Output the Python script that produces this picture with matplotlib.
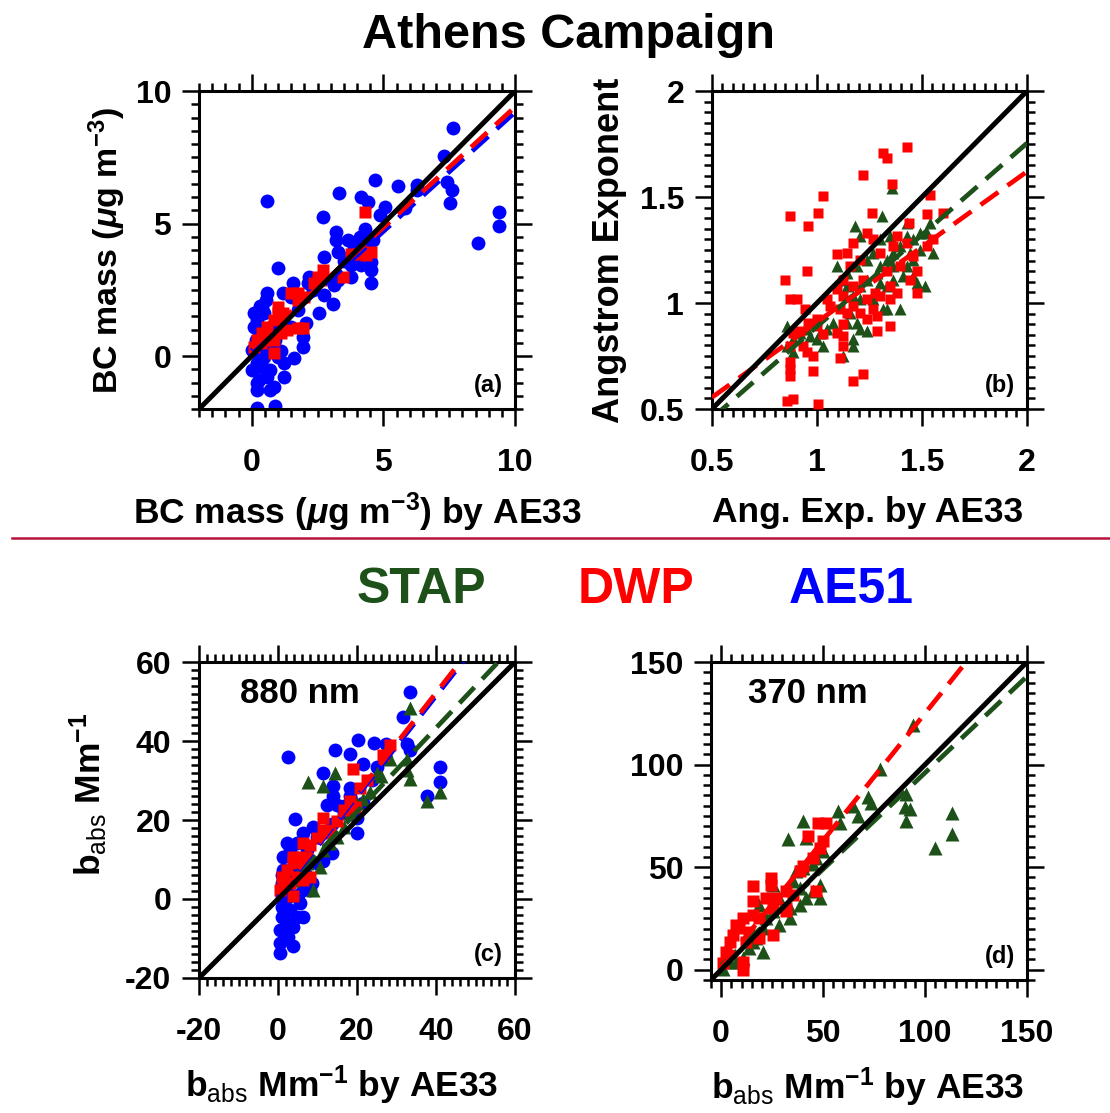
import matplotlib
matplotlib.use("Agg")
import matplotlib.pyplot as plt
from matplotlib.lines import Line2D
from matplotlib.ticker import MultipleLocator, FuncFormatter
import numpy as np

# ---- data ----
# (a) BC mass, AE51 / DWP vs AE33
a_ae51_x = [7.66, 7.32, 7.41, 7.6, 7.53, 8.61, 9.38, 9.38, 0.6, 3.33, 4.67, 5.56, 6.29, 4.16, 4.41, 5.05, 5.82, 2.72,
            4.89, 3.21, 3.21, 3.27, 2.75, 3.9, 4.1, 4.3, 4.6, 4.54, 4.54, 4.54, 4.16, 3.78, 3.27, 2.19, 1.55, 0.98, 0.6,
            1.17, 0.41, 0.22, 0.15, 0.22, 0.28, 0.22, 0.22, 0.9, 0.84, 1.22, 0.71, 1.22, 1.61, 1.93, 1.93, 2.06, 2.57,
            3.08, 2.75, 3.14, 3.78, 2.12, 1.48, 0.1, 0.35, 0.54, 0.48, 0.79, 0.98, 0.6, 0.03, 0.03, 0.48, 0.1, 0.73,
            1.17, 1.48, 2.32, 1.74, 3.78, 3.52, 4.35, 3.65, 6.29, 0.3, 0.5, 0.2, 0.7, 0.45, 0.9, 1.1, 0.3, 0.55, 0.15]
a_ae51_y = [8.59, 7.55, 6.58, 6.26, 5.76, 4.28, 5.45, 4.91, 5.86, 6.14, 6.64, 6.42, 6.45, 6.01, 5.82, 5.64, 5.57, 5.26,
            5.32, 4.69, 4.38, 3.94, 3.74, 4.06, 4.5, 4.81, 4.38, 3.56, 3.25, 2.74, 3.43, 3.0, 2.87, 3.0, 2.74, 3.31, 2.36,
            2.36, 1.86, 1.36, 0.6, -0.28, -0.91, -1.29, -1.97, -1.9, -1.16, -0.78, -0.53, -0.28, -0.09, 0.35, 0.73,
            1.23, 1.61, 1.96, 2.3, 2.67, 3.43, 2.74, 2.23, 1.1, 0.86, 0.35, -0.03, 0.35, -0.03, -0.78, 0.23, -0.53,
            1.61, 1.61, 1.1, 1.36, 1.1, 2.48, 1.73, 3.8, 3.6, 4.25, 4.38, 6.26, 0.0, -0.5, -1.0, -1.3, 1.0, 0.6, 0.2,
            1.9, 2.1, -0.4]
a_dwp_x = [0.1, 0.22, 0.41, 0.6, 0.84, 0.98, 0.98, 0.84, 0.84, 1.1, 1.35, 1.74, 1.93, 0.71, 1.48, 1.74, 1.99, 1.74,
           2.38, 2.5, 2.7, 2.63, 3.46, 3.78, 4.04, 4.54, 4.35, 4.29, 1.17, 0.35, 0.54]
a_dwp_y = [0.35, 0.6, 0.86, 1.1, 1.36, 1.86, 1.61, 0.1, 0.6, 0.86, 0.98, 1.04, 1.04, 0.73, 2.36, 2.36, 2.23, 2.1,
           2.74, 3.0, 3.25, 2.87, 3.0, 3.86, 3.86, 3.94, 3.8, 5.45, 1.61, 0.48, 0.6]
a_fit_dwp = [0.91, 0.30]   # slope, intercept
a_fit_ae51 = [0.90, 0.20]

# (b) Angstrom exponent, STAP / DWP vs AE33
b_dwp_x = [1.427, 1.316, 1.332, 1.221, 1.356, 1.03, 0.871, 1.003, 0.959, 1.26, 1.538, 1.522, 1.599, 1.44, 0.848,
           0.951, 0.871, 0.906, 0.943, 0.959, 0.919, 0.871, 0.935, 0.871, 0.871, 0.871, 0.982, 1.11, 1.03, 1.094,
           1.125, 1.173, 1.221, 0.856, 0.887, 1.003, 1.284, 1.348, 1.237, 1.125, 1.11, 1.142, 1.173, 1.205, 1.268,
           1.276, 1.348, 1.348, 1.475, 1.443, 1.475, 1.522, 1.554, 1.458, 1.395, 1.332, 1.3, 1.237, 1.173, 1.142,
           1.094, 1.205, 1.157, 1.125, 1.173, 1.221, 1.094, 1.237, 1.427, 1.364, 1.268, 1.379, 1.125, 1.125, 1.284,
           1.3, 1.379, 1.062, 1.046, 0.998, 0.998, 0.887, 0.982, 0.951]
b_dwp_y = [1.738, 1.71, 1.683, 1.602, 1.562, 1.506, 1.409, 1.425, 1.362, 1.425, 1.511, 1.42, 1.425, 1.378, 1.111,
           1.15, 1.02, 1.02, 0.97, 0.908, 0.868, 0.798, 0.798, 0.72, 0.688, 0.657, 0.68, 0.743, 0.853, 0.86, 0.9,
           0.633, 0.665, 0.539, 0.546, 0.524, 0.868, 0.89, 0.923, 1.033, 0.97, 0.955, 0.986, 0.955, 0.97, 1.049, 1.08,
           1.017, 1.049, 1.111, 1.15, 1.268, 1.3, 1.221, 1.174, 1.15, 1.237, 1.331, 1.284, 1.237, 1.229, 1.205,
           1.174, 1.111, 1.08, 1.111, 1.064, 1.017, 1.284, 1.268, 1.3, 1.315, 0.845, 0.798, 0.939, 1.033, 1.049,
           0.986, 1.017, 0.923, 0.892, 0.86, 0.751, 0.767]
b_stap_x = [1.356, 1.308, 1.181, 1.427, 1.538, 1.522, 1.554, 1.514, 1.395, 1.316, 1.189, 1.205, 1.237, 1.173, 1.173,
            1.125, 1.03, 0.998, 0.919, 0.856, 0.856, 0.887, 0.967, 1.094, 1.11, 1.142, 1.189, 1.237, 1.268, 1.3,
            1.332, 1.364, 1.395, 1.427, 1.458, 1.49, 1.49, 1.458, 1.427, 1.411, 1.364, 1.332, 1.284, 1.237, 1.205,
            1.173, 1.205, 1.268, 1.364, 1.443, 1.458, 1.475, 1.3, 1.157, 1.142, 1.078, 1.046, 1.014, 0.951, 0.887,
            1.3, 1.348, 1.205, 1.142, 1.332]
b_stap_y = [1.542, 1.409, 1.362, 1.378, 1.378, 1.331, 1.237, 1.08, 0.97, 0.97, 0.908, 0.877, 0.868, 0.798, 0.83,
            0.751, 0.798, 0.83, 0.86, 0.892, 0.798, 0.767, 0.845, 1.174, 1.111, 1.142, 1.174, 1.205, 1.237, 1.174,
            1.205, 1.237, 1.268, 1.315, 1.3, 1.331, 1.252, 1.205, 1.174, 1.127, 1.111, 1.08, 1.142, 1.111, 1.08,
            1.033, 1.017, 1.017, 1.174, 1.237, 1.127, 1.096, 1.096, 0.955, 0.908, 0.908, 0.877, 0.86, 0.877, 0.83,
            1.3, 1.315, 1.315, 1.08, 0.97]
b_fit_dwp = [0.71, 0.20]
b_fit_stap = [0.865, 0.024]

# (c) b_abs 880 nm
c_ae51_x = [33.4, 31.7, 2.6, 20.3, 24.3, 27.3, 14.4, 18.1, 32.6, 33.4, 41.0, 41.0, 37.7, 11.5, 14.0, 14.0, 21.6, 25.0,
            4.3, 2.2, 6.4, 8.9, 13.6, 12.3, 14.9, 18.2, 19.9, 19.9, 13.6, 11.5, 8.5, 8.1, 5.6, 4.7, 3.9, 0.5, 0.5, 0.5,
            3.9, 0.9, 0.9, 0.9, 2.2, 0.9, 1.3, 1.3, 3.0, 3.9, 4.7, 7.3, 9.9, 6.4, 3.0, 2.2, 6.4, 2.6, 23.7, 18.2, 16.7,
            9.9, 16.7, 21.6, 1.5, 2.5, 1.0, 5.0, 3.0, 7.0]
c_ae51_y = [52.5, 46.2, 35.9, 40.3, 39.4, 39.2, 37.6, 36.8, 39.2, 37.7, 33.3, 29.7, 26.1, 31.9, 28.6, 26.1, 34.3, 33.4,
            20.2, 14.1, 16.6, 18.3, 19.1, 23.8, 23.8, 28.1, 16.6, 20.4, 11.7, 9.6, 4.0, 2.3, -1.1, -4.5, -7.0, -7.8,
            -11.2, -13.7, -11.9, -4.5, -1.9, 0.7, 2.3, 4.0, 7.4, 10.7, 12.5, 8.2, 14.1, 12.5, 9.1, 2.3, -2.8, -6.2,
            -4.5, -9.5, 30.1, 26.1, 23.5, 15.8, 21.8, 24.4, -3.0, 0.5, 6.0, 1.0, 5.0, 6.0]
c_dwp_x = [19.1, 0.5, 1.3, 2.2, 3.9, 3.9, 3.9, 4.7, 6.4, 8.1, 6.0, 6.4, 8.1, 9.9, 11.5, 11.5, 13.2, 14.9, 16.7, 18.2,
           19.5, 20.7, 22.4, 26.6, 28.4, 3.0, 0.9]
c_dwp_y = [33.0, 2.3, 4.8, 7.4, 10.7, 9.1, 0.7, 5.6, 4.8, 5.6, 10.7, 14.1, 13.7, 15.4, 17.5, 20.4, 16.6, 19.8, 22.6,
           24.8, 23.2, 28.1, 30.1, 36.5, 39.1, 4.0, 5.6]
c_stap_x = [33.4, 7.7, 11.5, 14.4, 33.4, 32.6, 41.0, 37.7, 25.0, 26.0, 27.3, 28.4, 32.6, 21.6, 18.2, 16.7, 14.9, 13.2,
            11.5, 10.7, 8.9, 3.9, 5.6, 7.3, 19.9, 23.2]
c_stap_y = [48.3, 29.7, 28.6, 31.9, 30.5, 32.7, 27.0, 24.8, 31.9, 31.1, 37.7, 35.5, 35.5, 25.4, 21.8, 18.3, 15.8, 14.1,
            12.5, 8.2, 2.3, 4.8, 7.4, 9.1, 24.4, 27.0]
c_fit_dwp = [1.28, 1.0]
c_fit_ae51 = [1.27, 0.6]
c_fit_stap = [1.06, 0.9]

# (d) b_abs 370 nm
d_stap_x = [94.2, 77.8, 72.0, 73.7, 64.7, 67.1, 57.3, 58.1, 40.1, 32.7, 41.8, 90.9, 90.1, 92.5, 90.9, 113.0, 113.0,
            104.8, 49.9, 46.7, 45.0, 40.1, 36.9, 48.3, 45.0, 41.8, 38.5, 33.6, 28.6, 25.4, 22.1, 20.4, 17.2, 13.9,
            10.6, 7.4, 20.4, 18.8, 25.4, 35.2, 38.5, 48.3, 28.6, 33.6, 4.1, 15.5, 0.8]
d_stap_y = [119.1, 97.9, 84.0, 81.5, 79.9, 75.0, 77.5, 71.7, 72.5, 63.6, 64.4, 85.6, 79.1, 78.3, 72.5, 76.6, 66.0,
            59.5, 57.8, 54.6, 51.3, 49.7, 48.0, 41.5, 38.2, 35.0, 31.7, 30.0, 35.0, 28.4, 25.1, 20.2, 15.3, 10.4, 5.5,
            3.9, 8.8, 31.7, 41.5, 43.1, 39.9, 35.0, 21.9, 25.1, 3.9, 13.7, 0.6]
d_dwp_x = [51.6, 47.5, 42.6, 50.0, 48.3, 45.0, 40.1, 38.5, 46.7, 24.6, 24.6, 15.5, 15.5, 22.1, 27.0, 32.0, 35.2, 32.0,
           25.4, 15.5, 10.6, 9.0, 5.7, 4.1, 2.5, 0.8, 10.6, 10.6, 25.4, 18.8, 13.9, 7.4, 12.3, 32.0, 18.8]
d_dwp_y = [71.7, 71.7, 65.2, 62.7, 59.5, 54.6, 50.5, 48.0, 38.2, 44.8, 41.5, 40.7, 33.3, 35.0, 35.0, 38.2, 36.6, 30.0,
           30.0, 26.8, 25.1, 20.2, 17.0, 13.7, 8.8, 3.1, 3.9, -0.1, 17.0, 15.3, 18.6, 21.9, 13.7, 28.4, 25.1]
d_fit_dwp = [1.24, 1.0]
d_fit_stap = [0.94, 2.0]

GREEN = "#1d5119"
RED = "#ff0000"
BLUE = "#0000ff"

plt.rcParams["font.family"] = "Liberation Sans"
plt.rcParams["font.weight"] = "bold"
plt.rcParams["axes.labelweight"] = "bold"
plt.rcParams["axes.unicode_minus"] = False
plt.rcParams["mathtext.fontset"] = "custom"
plt.rcParams["mathtext.rm"] = "Liberation Sans:bold"
plt.rcParams["mathtext.it"] = "Liberation Sans:italic:bold"
plt.rcParams["mathtext.bf"] = "Liberation Sans:bold"
plt.rcParams["mathtext.sf"] = "Liberation Sans:weight=normal"

fig = plt.figure(figsize=(11.1, 11.13), dpi=100)


def setup(ax, lim, major, minor):
    ax.set_xlim(lim)
    ax.set_ylim(lim)
    for axis in (ax.xaxis, ax.yaxis):
        axis.set_major_locator(MultipleLocator(major))
        axis.set_minor_locator(MultipleLocator(minor))
        axis.set_major_formatter(FuncFormatter(lambda v, p: "{:g}".format(round(v, 3))))
    ax.tick_params(which="both", direction="out", top=True, right=True, width=1.8, labelsize=23)
    ax.tick_params(which="major", length=12)
    ax.tick_params(which="minor", length=6)
    ax.tick_params(axis="x", pad=16)
    ax.tick_params(axis="y", pad=8)
    for s in ax.spines.values():
        s.set_linewidth(2.2)
    # 1:1 line
    ax.plot(lim, lim, color="black", lw=3.6, zorder=5)


def fit(ax, coef, x0, x1, color):
    xs = np.array([x0, x1])
    ax.plot(xs, coef[0] * xs + coef[1], color=color, lw=3.4, dashes=(4.6, 2.4), zorder=4)


def label(ax, letter):
    ax.text(0.915, 0.075, letter, transform=ax.transAxes, ha="center", va="center", fontsize=17)


# (a)
ax = fig.add_axes([0.1793, 0.6325, 0.2847, 0.2857])
ax.plot(a_ae51_x, a_ae51_y, "o", color=BLUE, ms=10, mec="none", zorder=2)
ax.plot(a_dwp_x, a_dwp_y, "s", color=RED, ms=8, mec="none", zorder=3)
fit(ax, a_fit_ae51, 0, 10, BLUE)
fit(ax, a_fit_dwp, 0, 10, RED)
setup(ax, (-2, 10), 5, 0.5)
ax.set_xlabel("BC mass ($\\mu$g m$^{-3}$) by AE33", fontsize=25.5, va="center")
ax.xaxis.set_label_coords(0.5, -0.324)
ax.set_ylabel("BC mass ($\\mu$g m$^{-3}$)", fontsize=24.5, va="center")
ax.yaxis.set_label_coords(-0.29, 0.5)
label(ax, "(a)")

# (b)
ax = fig.add_axes([0.6414, 0.6325, 0.2838, 0.2857])
ax.plot(b_stap_x, b_stap_y, "^", color=GREEN, ms=9, mec="none", zorder=2)
ax.plot(b_dwp_x, b_dwp_y, "s", color=RED, ms=7, mec="none", zorder=3)
fit(ax, b_fit_stap, 0.5, 2, GREEN)
fit(ax, b_fit_dwp, 0.5, 2, RED)
setup(ax, (0.5, 2), 0.5, 0.05)
ax.set_xlabel("Ang. Exp. by AE33", fontsize=25.5, va="center")
ax.xaxis.set_label_coords(0.495, -0.324)
ax.set_ylabel("Angstrom Exponent", fontsize=26, va="center")
ax.yaxis.set_label_coords(-0.324, 0.5)
label(ax, "(b)")

# (c)
ax = fig.add_axes([0.1793, 0.1213, 0.2847, 0.2839])
ax.plot(c_ae51_x, c_ae51_y, "o", color=BLUE, ms=10, mec="none", zorder=2)
ax.plot(c_stap_x, c_stap_y, "^", color=GREEN, ms=10, mec="none", zorder=2)
ax.plot(c_dwp_x, c_dwp_y, "s", color=RED, ms=8, mec="none", zorder=3)
fit(ax, c_fit_stap, 0, 60, GREEN)
fit(ax, c_fit_ae51, 0, 60, BLUE)
fit(ax, c_fit_dwp, 0, 60, RED)
setup(ax, (-20, 60), 20, 2)
ax.set_xlabel("b$_{\\mathsf{abs}}$ Mm$^{-1}$ by AE33", fontsize=25.5, va="center")
ax.xaxis.set_label_coords(0.45, -0.34)
ax.set_ylabel("b$_{\\mathsf{abs}}$ Mm$^{-1}$", fontsize=25.5, va="center")
ax.yaxis.set_label_coords(-0.35, 0.58)
ax.text(0.32, 0.90, "880 nm", transform=ax.transAxes, ha="center", va="center", fontsize=25)
label(ax, "(c)")

# (d)
ax = fig.add_axes([0.6405, 0.1195, 0.2847, 0.2857])
ax.plot(d_stap_x, d_stap_y, "^", color=GREEN, ms=10, mec="none", zorder=2)
ax.plot(d_dwp_x, d_dwp_y, "s", color=RED, ms=8, mec="none", zorder=3)
fit(ax, d_fit_stap, 0, 150, GREEN)
fit(ax, d_fit_dwp, 0, 150, RED)
setup(ax, (-5, 150), 50, 5)
ax.set_xlabel("b$_{\\mathsf{abs}}$ Mm$^{-1}$ by AE33", fontsize=25.5, va="center")
ax.xaxis.set_label_coords(0.497, -0.336)
ax.text(0.307, 0.90, "370 nm", transform=ax.transAxes, ha="center", va="center", fontsize=25)
label(ax, "(d)")

# title, separator and colour legend
fig.text(0.5126, 0.9677, "Athens Campaign", ha="center", va="center", fontsize=35)
fig.add_artist(Line2D([0.011, 1.0], [0.5166, 0.5166], transform=fig.transFigure, color="#b5123c", lw=1.8))
for name, col, xpos in [("STAP", GREEN, 0.380), ("DWP", RED, 0.573), ("AE51", BLUE, 0.767)]:
    fig.text(xpos, 0.47, name, color=col, ha="center", va="center", fontsize=36)

fig.savefig("out.png", dpi=100)
